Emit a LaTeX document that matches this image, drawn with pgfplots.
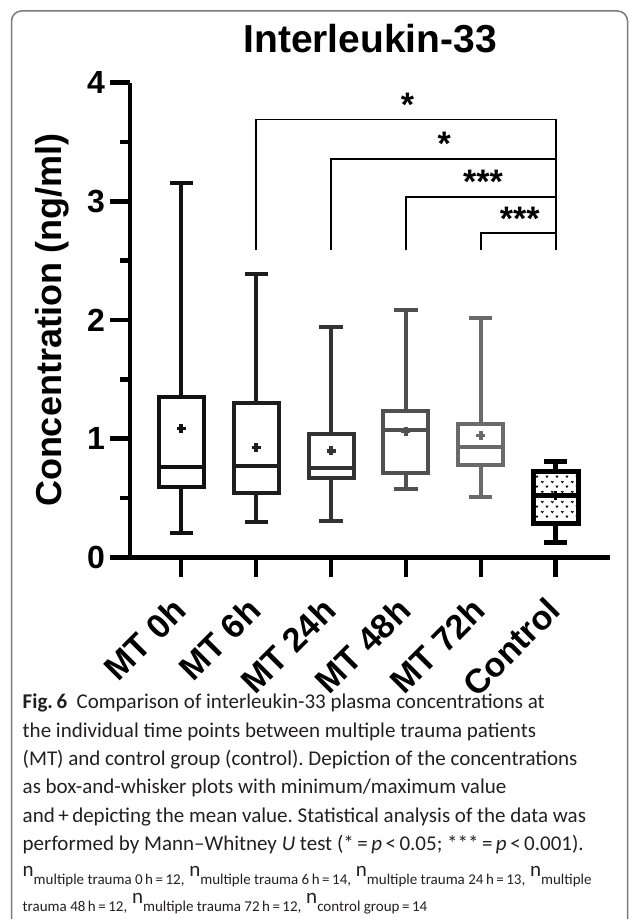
\documentclass[border=0pt]{standalone}
\usepackage{pgfplots}
\pgfplotsset{compat=1.18}
\usepgfplotslibrary{statistics}
\usetikzlibrary{patterns.meta}
\usepackage{fontspec}
\setmainfont{Liberation Sans}
\newfontfamily\capfont[Ligatures=TeX]{Carlito}
\frenchspacing

\tikzdeclarepattern{
  name=vdots, type=uncolored,
  bounding box={(0pt,0pt) and (10pt,10pt)},
  tile size={(10pt,10pt)},
  code={
    \draw[line width=1pt] (1.3pt,8.6pt) -- (2.5pt,6.9pt) -- (3.7pt,8.6pt);
    \draw[line width=1pt] (6.3pt,3.6pt) -- (7.5pt,1.9pt) -- (8.7pt,3.6pt);
  }
}

\definecolor{c0}{HTML}{111111}
\definecolor{c1}{HTML}{1E1E1E}
\definecolor{c2}{HTML}{333333}
\definecolor{c3}{HTML}{505050}
\definecolor{c4}{HTML}{6A6A6A}
\definecolor{frame}{HTML}{7A7A7A}
\definecolor{captxt}{HTML}{231F20}

\newcommand{\sub}[1]{\raisebox{-7.5pt}{\fontsize{15}{15}\selectfont #1}}

\begin{document}
\begin{tikzpicture}[x=1pt,y=1pt]
\useasboundingbox (0,0) rectangle (629,919);
\draw[frame, line width=1.5pt, rounded corners=10pt] (11.5,-5) -- (11.5,908) -- (627.5,908) -- (627.5,-5);

\begin{axis}[
  at={(130pt,361.7pt)}, anchor=south west,
  scale only axis, width=480.4pt, height=474.6pt,
  xmin=-0.684, xmax=5.73, ymin=0, ymax=4,
  clip=false,
  axis x line*=bottom, axis y line*=left,
  axis line style={-, line width=4.5pt, black},
  tick align=outside,
  major tick length=19.5pt, minor tick length=10pt,
  every tick/.style={line width=4.5pt, black},
  xtick={0,1,2,3,4,5},
  xticklabels={\textbf{MT 0h}, \textbf{MT 6h}, \textbf{MT 24h}, \textbf{MT 48h}, \textbf{MT 72h}, \textbf{Control}},
  xticklabel style={xshift=7pt, yshift=-36pt, rotate=45, anchor=base east, inner sep=0pt,
    font=\fontsize{34}{34}\selectfont\bfseries},
  ytick={0,1,2,3,4},
  yticklabels={\textbf{0},\textbf{1},\textbf{2},\textbf{3},\textbf{4}},
  minor ytick={0.5,1.5,2.5,3.5},
  yticklabel style={anchor=east, inner sep=0pt, xshift=-5.5pt,
    font=\fontsize{32}{32}\selectfont\bfseries},
  title={\textbf{Interleukin-33}},
  title style={at={(axis description cs:0.5,1.052)}, anchor=base, inner sep=0pt,
    font=\fontsize{39}{39}\selectfont\bfseries},
  ylabel={\textbf{Concentration (ng/ml)}},
  ylabel style={at={(axis description cs:-0.1416,0.5)}, anchor=base, inner sep=0pt,
    font=\fontsize{36}{36}\selectfont\bfseries},
  boxplot/draw direction=y,
]
% boxes
\addplot[c0, line width=4pt, boxplot prepared={draw position=0,
  lower whisker=0.202, lower quartile=0.595, median=0.764,
  upper quartile=1.349, upper whisker=3.158, box extend=0.6, whisker extend=0.31}] coordinates {};
\addplot[c1, line width=4pt, boxplot prepared={draw position=1,
  lower whisker=0.295, lower quartile=0.545, median=0.770,
  upper quartile=1.303, upper whisker=2.387, box extend=0.6, whisker extend=0.31}] coordinates {};
\addplot[c2, line width=4pt, boxplot prepared={draw position=2,
  lower whisker=0.306, lower quartile=0.671, median=0.750,
  upper quartile=1.037, upper whisker=1.937, box extend=0.6, whisker extend=0.31}] coordinates {};
\addplot[c3, line width=4pt, boxplot prepared={draw position=3,
  lower whisker=0.573, lower quartile=0.711, median=1.070,
  upper quartile=1.236, upper whisker=2.082, box extend=0.6, whisker extend=0.31}] coordinates {};
\addplot[c4, line width=4pt, boxplot prepared={draw position=4,
  lower whisker=0.506, lower quartile=0.778, median=0.932,
  upper quartile=1.126, upper whisker=2.018, box extend=0.6, whisker extend=0.31}] coordinates {};
\addplot[black, line width=5pt, pattern=vdots, pattern color=black, boxplot prepared={draw position=5,
  lower whisker=0.123, lower quartile=0.287, median=0.525,
  upper quartile=0.722, upper whisker=0.806, box extend=0.6, whisker extend=0.31}] coordinates {};
% means
\addplot[only marks, mark=+, mark size=4.5pt, c0, mark options={line width=3.5pt}] coordinates {(0,1.087)};
\addplot[only marks, mark=+, mark size=4.5pt, c1, mark options={line width=3.5pt}] coordinates {(1,0.924)};
\addplot[only marks, mark=+, mark size=4.5pt, c2, mark options={line width=3.5pt}] coordinates {(2,0.896)};
\addplot[only marks, mark=+, mark size=4.5pt, c3, mark options={line width=3.5pt}] coordinates {(3,1.064)};
\addplot[only marks, mark=+, mark size=4.5pt, c4, mark options={line width=3.5pt}] coordinates {(4,1.028)};
\addplot[only marks, mark=+, mark size=4.5pt, black, mark options={line width=3.5pt}] coordinates {(5,0.52)};
% significance brackets
\addplot[black, line width=1.8pt] coordinates {(1,2.59) (1,3.69) (5,3.69) (5,2.59)};
\addplot[black, line width=1.8pt] coordinates {(2,2.59) (2,3.36) (5,3.36)};
\addplot[black, line width=1.8pt] coordinates {(3,2.59) (3,3.04) (5,3.04)};
\addplot[black, line width=1.8pt] coordinates {(4,2.59) (4,2.73) (5,2.73)};
\node[anchor=base, inner sep=0pt, font=\fontsize{34}{34}\selectfont\bfseries] at (axis cs:3.02,3.716) {*};
\node[anchor=base, inner sep=0pt, font=\fontsize{34}{34}\selectfont\bfseries] at (axis cs:3.51,3.385) {*};
\node[anchor=base, inner sep=0pt, font=\fontsize{34}{34}\selectfont\bfseries] at (axis cs:4.03,3.064) {***};
\node[anchor=base, inner sep=0pt, font=\fontsize{34}{34}\selectfont\bfseries] at (axis cs:4.52,2.753) {***};
\end{axis}

% caption
\begin{scope}[every node/.style={anchor=base west, inner sep=0pt, text=captxt,
    font=\capfont\fontsize{21}{28}\selectfont}]
\node at (22.5,210) {{\bfseries Fig.\,6}\hspace{0.45em}Comparison of interleukin-33 plasma concentrations at};
\node at (22.5,181.7) {the individual time points between multiple trauma patients};
\node at (22.5,153.4) {(MT) and control group (control). Depiction of the concentrations};
\node at (22.5,125.1) {as box-and-whisker plots with minimum/maximum value};
\node at (22.5,96.8) {and\,+\,depicting the mean value. Statistical analysis of the data was};
\node at (22.5,68.5) {performed by Mann–Whitney \textit{U} test (*\,=\,\textit{p}\,<\,0.05; ***\,=\,\textit{p}\,<\,0.001).};
\node at (22.5,42) {n\sub{multiple trauma 0\,h\,=\,12,} n\sub{multiple trauma 6\,h\,=\,14,} n\sub{multiple trauma 24\,h\,=\,13,} n\sub{multiple}};
\node at (22.5,15.5) {\sub{trauma 48\,h\,=\,12,} n\sub{multiple trauma 72\,h\,=\,12,} n\sub{control group\,=\,14}};
\end{scope}
\end{tikzpicture}
\end{document}
